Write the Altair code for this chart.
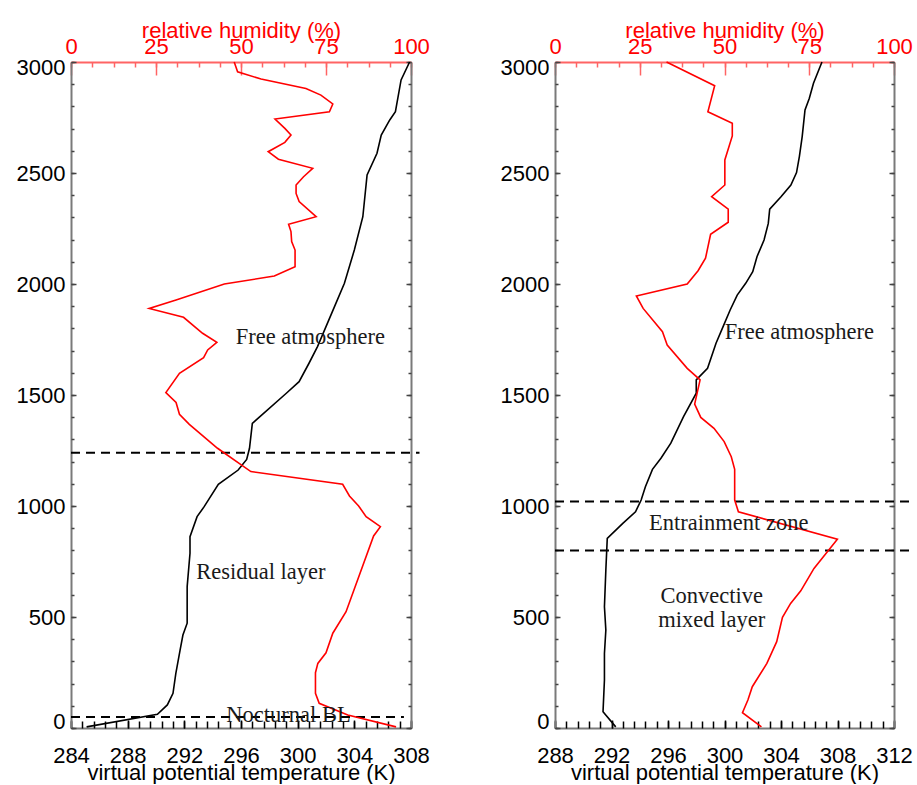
import altair as alt
import pandas as pd

# ---- Left panel: early-morning sounding (residual layer over a nocturnal BL) ----
h_theta_a = [5, 62, 104, 156, 246, 351, 419, 472, 637, 787, 862, 952, 997, 1098,
             1162, 1210, 1260, 1372, 1508, 1560, 1643, 1718, 1808, 1898, 2003,
             2153, 2303, 2491, 2589, 2671, 2739, 2776, 2919, 3000]
theta_a = [285.1, 290.1, 290.8, 291.2, 291.4, 291.7, 291.9, 292.2, 292.2, 292.4,
           292.4, 292.9, 293.4, 294.4, 295.8, 296.4, 296.6, 296.8, 299.2, 300.1,
           300.8, 301.4, 302.0, 302.6, 303.3, 304.0, 304.6, 304.9, 305.6, 305.9,
           306.5, 306.9, 307.3, 307.9]
h_rh_a = [5, 59, 111, 156, 249, 291, 339, 427, 524, 865, 907, 952, 1000, 1045, 1098,
          1155, 1260, 1368, 1413, 1466, 1511, 1598, 1668, 1703, 1737, 1778, 1850,
          1890, 1928, 2000, 2036, 2078, 2153, 2191, 2236, 2269, 2303, 2371, 2408,
          2446, 2483, 2521, 2562, 2596, 2638, 2671, 2701, 2743, 2776, 2811, 2851,
          2881, 2923, 2956, 3000]
rh_a = [95.6, 81.4, 73.0, 71.9, 71.9, 72.6, 75.0, 77.0, 80.9, 89.0, 91.0, 86.8,
        84.6, 81.9, 79.9, 52.9, 43.1, 34.8, 31.9, 30.9, 27.9, 31.9, 39.0, 40.2,
        42.9, 38.7, 33.1, 23.0, 30.9, 45.1, 59.8, 65.9, 65.9, 64.9, 64.7, 64.0,
        72.1, 67.1, 66.2, 66.2, 68.4, 71.1, 61.0, 58.0, 62.9, 64.7, 62.9, 60.0,
        76.0, 77.0, 73.5, 69.1, 55.9, 49.0, 48.0]
layer_tops_a = [1240, 50]
layer_ends_a = [308.6, 307.5]
notes_a = ["Free atmosphere", "Residual layer", "Nocturnal BL"]
notes_a_t = [300.9, 297.4, 299.35]
notes_a_h = [1762, 704, 58]

# ---- Right panel: afternoon sounding (convective mixed layer) ----
h_theta_b = [5, 73, 216, 336, 441, 546, 712, 854, 922, 974, 1027, 1087, 1165, 1215,
             1283, 1403, 1508, 1568, 1620, 1733, 1808, 1883, 1950, 2003, 2055, 2123,
             2198, 2273, 2337, 2393, 2446, 2502, 2574, 2664, 2784, 2836, 2904, 3000]
theta_b = [292.3, 291.4, 291.5, 291.5, 291.6, 291.5, 291.6, 291.7, 292.8, 293.7,
           294.1, 294.4, 294.9, 295.5, 296.2, 297.1, 298.0, 298.0, 298.8, 299.4,
           299.9, 300.4, 300.9, 301.5, 302.0, 302.3, 302.8, 303.1, 303.2, 304.0,
           304.7, 305.1, 305.3, 305.5, 305.7, 306.0, 306.3, 306.9]
h_rh_b = [5, 69, 126, 186, 291, 389, 499, 561, 618, 719, 850, 974, 1027, 1165, 1222,
          1290, 1350, 1399, 1459, 1568, 1620, 1725, 1785, 1890, 1946, 2000, 2060,
          2116, 2224, 2278, 2337, 2393, 2446, 2559, 2667, 2724, 2776, 2893, 3000]
rh_b = [60.9, 55.3, 56.9, 58.2, 62.5, 65.4, 67.1, 69.5, 72.5, 76.4, 83.3, 54.1,
        53.0, 53.0, 52.0, 49.9, 46.9, 43.0, 41.2, 42.8, 39.0, 33.1, 31.7, 26.0,
        24.0, 39.0, 42.2, 44.4, 45.9, 51.1, 51.1, 46.2, 50.1, 50.1, 52.3, 52.3,
        45.1, 47.1, 32.9]
layer_tops_b = [1020, 800]
layer_ends_b = [313.4, 313.4]
notes_b = ["Free atmosphere", "Entrainment zone", "Convective", "mixed layer"]
notes_b_t = [305.3, 300.3, 299.1, 299.1]
notes_b_h = [1785, 922, 595, 486]

# ---- Axis tick positions ----
height_major = list(range(0, 3001, 500))
height_minor = list(range(0, 3001, 100))
rh_major = [0, 25, 50, 75, 100]
rh_minor = [i * 6.25 for i in range(17)]

H = 666
SANS = "Liberation Sans"
SERIF = "Liberation Serif"
GRAY = "#7a7a7a"
RED = "#ff0000"
LRED = "#ff6464"
FS = 22


def panel(h_theta, theta, h_rh, rh, t0, width, tops, ends, notes, notes_t, notes_h):
    t_major = [t0 + 4 * i for i in range(7)]
    t_minor = [round(t0 + 0.8 * i, 2) for i in range(31)]
    theta_df = pd.DataFrame({"h": h_theta, "T": theta})
    rh_df = pd.DataFrame({"h": h_rh, "RH": rh})
    rule_df = pd.DataFrame({"h": tops, "t0": [t0] * len(tops), "t1": ends})
    note_df = pd.DataFrame({"T": notes_t, "h": notes_h, "label": notes})

    hs = alt.Scale(domain=[0, 3000], nice=False, zero=False)
    ts = alt.Scale(domain=[t0, t0 + 24], nice=False, zero=False)
    rs = alt.Scale(domain=[0, 100], nice=False, zero=False)

    def tick_axis(orient, offset, values, size, color):
        return alt.Axis(orient=orient, offset=offset, values=values, tickSize=size,
                        tickColor=color, tickWidth=1.5, labels=False, domain=False,
                        grid=False, title=None, minExtent=0)

    theta_line = alt.Chart(theta_df).mark_line(color="black", strokeWidth=1.6).encode(
        x=alt.X("T:Q", scale=ts, axis=alt.Axis(
            orient="bottom", values=t_major, format="d", ticks=False, grid=False,
            labelFlush=False, domainColor=GRAY, domainWidth=2, labelFont=SANS,
            labelFontSize=FS, labelColor="black", labelPadding=17,
            title="virtual potential temperature (K)", titleFont=SANS,
            titleFontSize=FS, titleFontWeight="normal", titleColor="black",
            titlePadding=-4)),
        y=alt.Y("h:Q", scale=hs, axis=alt.Axis(
            orient="left", values=height_major, format="d", ticks=False, grid=False,
            labelFlush=True, labelFlushOffset=5, domainColor=GRAY, domainWidth=2,
            labelFont=SANS, labelFontSize=FS, labelColor="black", labelPadding=6,
            title=None)),
        order="h:Q",
    )
    rh_line = alt.Chart(rh_df).mark_line(color=RED, strokeWidth=1.6).encode(
        x=alt.X("RH:Q", scale=rs, axis=alt.Axis(
            orient="top", values=rh_major, format="d", ticks=False, grid=False,
            labelFlush=False, domainColor=LRED, domainWidth=2, labelFont=SANS,
            labelFontSize=FS, labelColor=RED, labelPadding=4,
            title="relative humidity (%)", titleFont=SANS, titleFontSize=FS,
            titleFontWeight="normal", titleColor=RED, titlePadding=-7)),
        y=alt.Y("h:Q", scale=hs, axis=alt.Axis(
            orient="right", labels=False, ticks=False, grid=False, domainColor=GRAY,
            domainWidth=2, title=None, minExtent=0)),
        order="h:Q",
    )
    # inward-pointing ticks: bottom and left edges
    theta_minor = alt.Chart(theta_df).mark_line(opacity=0).encode(
        x=alt.X("T:Q", scale=ts, axis=tick_axis("top", -H, t_minor, 7, "black")),
        y=alt.Y("h:Q", scale=hs, axis=tick_axis("right", -width, height_minor, 3, "#444")),
    )
    theta_major = alt.Chart(theta_df).mark_line(opacity=0).encode(
        x=alt.X("T:Q", scale=ts, axis=tick_axis("top", -H, t_major, 8, "black")),
        y=alt.Y("h:Q", scale=hs, axis=tick_axis("right", -width, height_major, 5, "#444")),
    )
    # inward-pointing ticks: top and right edges
    rh_minor_ax = alt.Chart(rh_df).mark_line(opacity=0).encode(
        x=alt.X("RH:Q", scale=rs, axis=tick_axis("bottom", -H, rh_minor, 5, LRED)),
        y=alt.Y("h:Q", scale=hs, axis=tick_axis("left", -width, height_minor, 3, "#444")),
    )
    rh_major_ax = alt.Chart(rh_df).mark_line(opacity=0).encode(
        x=alt.X("RH:Q", scale=rs, axis=tick_axis("bottom", -H, rh_major, 13, LRED)),
        y=alt.Y("h:Q", scale=hs, axis=tick_axis("left", -width, height_major, 5, "#444")),
    )
    rules = alt.Chart(rule_df).mark_rule(
        color="black", strokeWidth=2, strokeDash=[9, 6], clip=False
    ).encode(
        x=alt.X("t0:Q", scale=ts, axis=None),
        x2="t1:Q",
        y=alt.Y("h:Q", scale=hs, axis=None),
    )
    labels = alt.Chart(note_df).mark_text(
        font=SERIF, fontSize=22.5, color="#1a1a1a"
    ).encode(
        x=alt.X("T:Q", scale=ts, axis=None),
        y=alt.Y("h:Q", scale=hs, axis=None),
        text="label:N",
    )
    return alt.layer(
        rules, theta_line, rh_line, labels,
        theta_minor, theta_major, rh_minor_ax, rh_major_ax,
    ).resolve_scale(x="independent", y="independent").properties(width=width, height=H)


left = panel(h_theta_a, theta_a, h_rh_a, rh_a, 284, 340, layer_tops_a, layer_ends_a,
             notes_a, notes_a_t, notes_a_h)
right = panel(h_theta_b, theta_b, h_rh_b, rh_b, 288, 339, layer_tops_b, layer_ends_b,
              notes_b, notes_b_t, notes_b_h)

chart = alt.hconcat(left, right, spacing=69).properties(
    padding={"left": 15, "top": 18, "right": 0, "bottom": 0}
).configure_view(stroke=None).configure(background="white")

chart.save("out.html", embed_options={"renderer": "svg", "actions": False})
